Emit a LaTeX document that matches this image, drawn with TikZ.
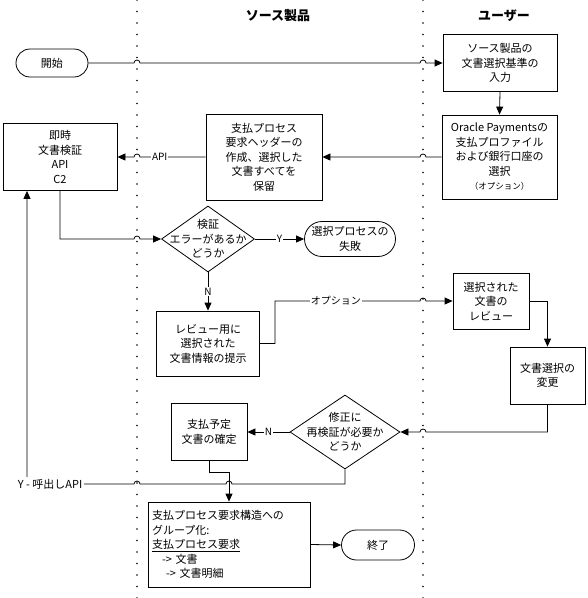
\documentclass[tikz,border=0pt]{standalone}
\usepackage{fontspec}
\setmainfont{Noto Sans CJK JP}
\usetikzlibrary{arrows.meta,shapes.misc,shapes.geometric}
\begin{document}
\begin{tikzpicture}[x=1pt,y=1pt,
  font=\fontsize{11}{14.5}\selectfont,
  box/.style={draw, line width=0.8pt, align=center, inner sep=2pt},
  term/.style={draw, rounded rectangle, line width=0.8pt, align=center, inner sep=2pt},
  dia/.style={draw, diamond, line width=0.8pt, inner sep=0pt},
  conn/.style={line width=0.8pt, -{Triangle[length=8pt,width=7pt]}},
  lbl/.style={fill=white, inner sep=1pt, font=\fontsize{10}{12}\selectfont},
  lane/.style={line width=1.6pt, line cap=round, dash pattern=on 0pt off 11.5pt},
  hdr/.style={font=\fontsize{13}{15}\selectfont\bfseries}
]
\useasboundingbox (0,0) rectangle (588,-598);
\coordinate (L1) at (137,0);
\coordinate (L2) at (423,0);
\draw[lane] (L1) -- (137,-598);
\draw[lane] (L2) -- (423,-598);
\node[hdr] (h1) at (278,-16) {ソース製品};
\node[hdr] (h2) at (504,-16) {ユーザー};

\node[term, minimum width=76pt, minimum height=28pt] (start) at (52,-63) {開始};
\node[box, minimum width=114pt, minimum height=57pt] (u1) at (500,-63) {ソース製品の\\文書選択基準の\\入力};
\node[box, minimum width=115pt, minimum height=84pt] (u2) at (499.5,-157) {Oracle Paymentsの\\支払プロファイル\\および銀行口座の\\選択\\{\fontsize{8.5}{11}\selectfont（オプション）}};
\node[box, minimum width=116pt, minimum height=86pt] (sp) at (264,-157) {支払プロセス\\要求ヘッダーの\\作成、選択した\\文書すべてを\\保留};
\node[box, minimum width=114pt, minimum height=67pt] (im) at (60,-157) {即時\\文書検証\\API\\C2};
\node[dia, minimum width=93pt, minimum height=66pt] (d1) at (208,-239) {};
\node[align=center] (d1t) at (d1.center) {検証\\エラーがあるか\\どうか};
\node[term, minimum width=95pt, minimum height=35pt] (fail) at (350,-239) {選択プロセスの\\失敗};
\node[box, minimum width=103pt, minimum height=65pt] (rv) at (208,-343.5) {レビュー用に\\選択された\\文書情報の提示};
\node[box, minimum width=76pt, minimum height=56pt] (u3) at (491,-301) {選択された\\文書の\\レビュー};
\node[box, minimum width=75pt, minimum height=57pt] (u4) at (547.5,-375.5) {文書選択の\\変更};
\node[dia, minimum width=110pt, minimum height=74pt] (d2) at (345,-432) {};
\node[align=center] (d2t) at (d2.center) {修正に\\再検証が必要か\\どうか};
\node[box, minimum width=76pt, minimum height=57pt] (cf) at (209,-432) {支払予定\\文書の確定};
\node[box, minimum width=162pt, minimum height=85pt, align=left, text width=154pt] (gp) at (229,-544.5) {支払プロセス要求構造への\\グループ化:\\\underline{支払プロセス要求}\\\hspace*{10pt}-> 文書\\\hspace*{14pt}-> 文書明細};
\node[term, minimum width=77pt, minimum height=30pt] (end) at (378,-545) {終了};

\draw[conn] (start.east) -- ([xshift=-3pt]L1 |- start.east) arc(180:0:3) -- ([xshift=-3pt]L2 |- start.east) arc(180:0:3) -- (u1.west);
\draw[conn] (u1.south) -- (u2.north);
\draw[conn] (u2.west) -- ([xshift=3pt]L2 |- u2.west) arc(0:180:3) -- (sp.east);
\draw[conn] (sp.west) -- node[lbl,pos=0.70]{API} ([xshift=3pt]L1 |- sp.west) arc(0:180:3) -- (im.east);
\draw[conn] (im.south) |- ([xshift=-3pt]L1 |- d1.west) arc(180:0:3) -- (d1.west);
\draw[conn] (d1.east) -- node[lbl]{Y} (fail.west);
\draw[conn] (d1.south) -- node[lbl]{N} (rv.north);
\draw[conn] (rv.east) -- ++(15,0) |- node[lbl,pos=0.71]{オプション} ([xshift=-3pt]L2 |- u3.west) arc(180:0:3) -- (u3.west);
\draw[conn] (u3.east) -| (u4.north);
\draw[conn] (u4.south) |- ([xshift=3pt]L2 |- d2.east) arc(0:180:3) -- (d2.east);
\draw[conn] (d2.west) -- node[lbl]{N} (cf.east);
\draw[conn] (cf.south) -- ++(0,-11) -| (gp.north);
\coordinate (yc) at (27,-484);
\draw[conn] (d2.south) |- ([xshift=3pt]gp.north |- yc) arc(0:180:3) -- ([xshift=3pt]L1 |- yc) arc(0:180:3) -- (yc) node[lbl, inner sep=2pt, xshift=23pt, font=\fontsize{11}{13}\selectfont]{Y - 呼出しAPI} -- (yc |- im.south);
\draw[conn] (gp.east) -- (end.west);
\end{tikzpicture}
\end{document}
